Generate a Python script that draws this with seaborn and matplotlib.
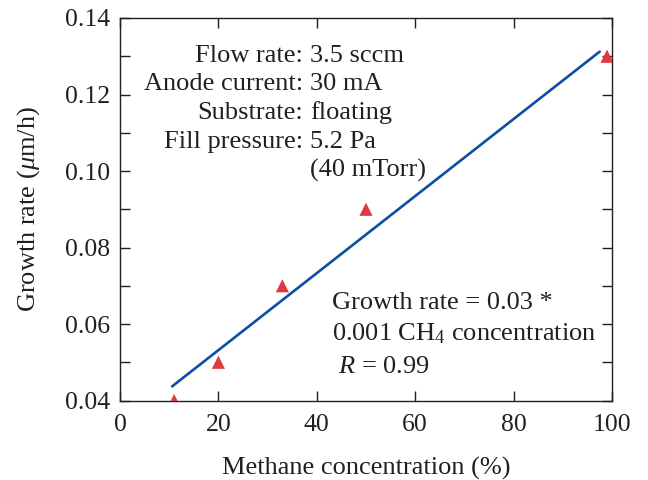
import matplotlib
matplotlib.use('Agg')
import matplotlib.pyplot as plt
import seaborn as sns
from matplotlib.ticker import MultipleLocator

# Measured points (methane %, growth rate um/h)
methane = [11, 20, 33, 50, 99]
growth = [0.04, 0.05, 0.07, 0.09, 0.13]

# Ends of the fitted line as drawn
fit_x = [10.6, 97.5]
fit_y = [0.0437, 0.1312]

x_ticks = [0, 20, 40, 60, 80, 100]
y_ticks = [0.04, 0.06, 0.08, 0.10, 0.12, 0.14]

cond_keys = ['Flow rate:', 'Anode current:', 'Substrate:', 'Fill pressure:', '']
cond_vals = ['3.5 sccm', '30 mA', 'floating', '5.2 Pa', '(40 mTorr)']

fit_text = ['Growth rate = 0.03 *', '0.001 CH$_4$ concentration', ' $R$ = 0.99']

ink = '#231f20'

sns.set_theme(style='ticks')
plt.rcParams['font.family'] = ['Liberation Serif', 'DejaVu Serif']
plt.rcParams['mathtext.fontset'] = 'custom'
plt.rcParams['mathtext.rm'] = 'Liberation Serif'
plt.rcParams['mathtext.it'] = 'Liberation Serif:italic'

fig = plt.figure(figsize=(6.48, 4.8), dpi=100)
ax = fig.add_axes([0.1852, 0.1656, 0.7592, 0.7969])

sns.lineplot(x=fit_x, y=fit_y, ax=ax, color='#0b4fa3', linewidth=1.9)
sns.scatterplot(x=methane, y=growth, ax=ax, marker='^', s=90,
                color='#e03a40', edgecolor='none', zorder=3)

ax.set_xlim(0, 100)
ax.set_ylim(0.04, 0.14)
ax.set_xticks(x_ticks)
ax.set_yticks(y_ticks)
ax.set_yticklabels([f'{v:.2f}' for v in y_ticks])
ax.yaxis.set_minor_locator(MultipleLocator(0.01))
ax.tick_params(which='both', direction='in', top=True, right=True,
               length=7, width=1, labelsize=18.5, color=ink, labelcolor=ink, pad=7)
ax.tick_params(axis='x', pad=10)
ax.tick_params(axis='x', which='minor', bottom=False, top=False)
for s in ax.spines.values():
    s.set_color(ink)
    s.set_linewidth(1)
    s.set_visible(True)

ax.set_xlabel('Methane concentration (%)', fontsize=19, labelpad=15, color=ink)
ax.set_ylabel('Growth rate ($\\mu$m/h)', fontsize=19, labelpad=17, color=ink)

# Run conditions block
for i, (k, v) in enumerate(zip(cond_keys, cond_vals)):
    y = 0.1286 - i * 0.00752
    ax.text(37.2, y, k, ha='right', va='baseline', fontsize=19, color=ink)
    ax.text(38.6, y, v, ha='left', va='baseline', fontsize=19, color=ink)

# Fit description
for i, t in enumerate(fit_text):
    y = 0.0639 - i * 0.0083
    ax.text(43.1, y, t, ha='left', va='baseline', fontsize=19, color=ink)

fig.savefig('out.png', dpi=100)
